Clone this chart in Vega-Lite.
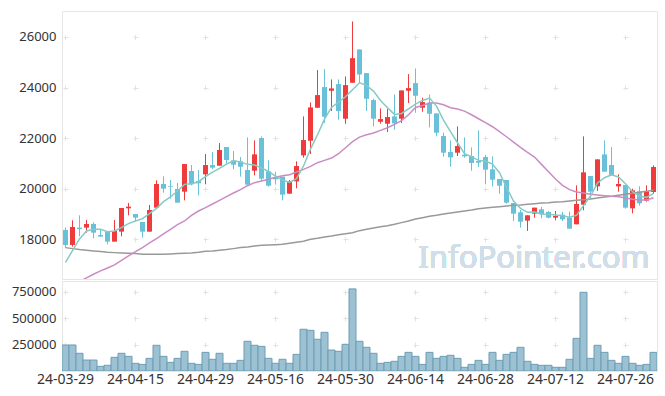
{
  "$schema": "https://vega.github.io/schema/vega-lite/v6.json",
  "padding": {"left": 5, "top": 10, "right": 9, "bottom": 0},
  "config": {
    "view": {"stroke": "#e6e6e6"},
    "axis": {"labelFont": "Noto Sans", "labelFontSize": 13, "labelColor": "#333333", "gridColor": "#e2e2e2", "gridWidth": 1, "domain": false, "ticks": false, "title": null}
  },
  "datasets": {
    "stock": [
      {"d":"24-03-29","o":18369,"h":18461,"l":17671,"c":17776,"v":247000,"m5":17091,"m20":null,"m60":17671},
      {"d":"24-04-01","o":17776,"h":18751,"l":17710,"c":18487,"v":247000,"m5":17552,"m20":null,"m60":17631},
      {"d":"24-04-02","o":18461,"h":18948,"l":18118,"c":18408,"v":168000,"m5":18013,"m20":16327,"m60":17592},
      {"d":"24-04-03","o":18461,"h":18764,"l":18263,"c":18606,"v":104000,"m5":18329,"m20":16472,"m60":17565},
      {"d":"24-04-04","o":18606,"h":18672,"l":18040,"c":18263,"v":104000,"m5":18395,"m20":16617,"m60":17539},
      {"d":"24-04-05","o":18171,"h":18382,"l":18105,"c":18105,"v":44000,"m5":18395,"m20":16749,"m60":17513},
      {"d":"24-04-08","o":18290,"h":18329,"l":17802,"c":17908,"v":54000,"m5":18303,"m20":16867,"m60":17486},
      {"d":"24-04-09","o":17908,"h":18764,"l":17908,"c":18329,"v":130000,"m5":18329,"m20":16986,"m60":17473},
      {"d":"24-04-11","o":18303,"h":19238,"l":18118,"c":19238,"v":168000,"m5":18461,"m20":17170,"m60":17460},
      {"d":"24-04-12","o":19225,"h":19436,"l":18948,"c":19291,"v":139000,"m5":18619,"m20":17342,"m60":17447},
      {"d":"24-04-15","o":19001,"h":19001,"l":18724,"c":18856,"v":73000,"m5":18724,"m20":17513,"m60":17434},
      {"d":"24-04-16","o":18685,"h":18685,"l":18066,"c":18303,"v":63000,"m5":18817,"m20":17671,"m60":17407},
      {"d":"24-04-17","o":18303,"h":19357,"l":18303,"c":19159,"v":120000,"m5":19014,"m20":17855,"m60":17407},
      {"d":"24-04-18","o":19251,"h":20331,"l":19251,"c":20186,"v":244000,"m5":19225,"m20":18026,"m60":17407},
      {"d":"24-04-19","o":20186,"h":20489,"l":19844,"c":20002,"v":139000,"m5":19488,"m20":18211,"m60":17407},
      {"d":"24-04-22","o":20107,"h":20344,"l":19607,"c":20081,"v":82000,"m5":19673,"m20":18395,"m60":17421},
      {"d":"24-04-23","o":19989,"h":20226,"l":19449,"c":19449,"v":120000,"m5":19910,"m20":18579,"m60":17434},
      {"d":"24-04-24","o":19883,"h":20976,"l":19541,"c":20976,"v":187000,"m5":20173,"m20":18724,"m60":17447},
      {"d":"24-04-25","o":20700,"h":20937,"l":20134,"c":20173,"v":73000,"m5":20199,"m20":18948,"m60":17460},
      {"d":"24-04-26","o":20305,"h":20739,"l":19738,"c":20213,"v":63000,"m5":20278,"m20":19119,"m60":17486},
      {"d":"24-04-29","o":20568,"h":21372,"l":20173,"c":20937,"v":177000,"m5":20476,"m20":19251,"m60":17526},
      {"d":"24-04-30","o":20937,"h":21451,"l":20766,"c":20832,"v":111000,"m5":20660,"m20":19396,"m60":17539},
      {"d":"24-05-02","o":20911,"h":21806,"l":20911,"c":21530,"v":168000,"m5":20805,"m20":19541,"m60":17565},
      {"d":"24-05-03","o":21648,"h":21648,"l":20963,"c":21134,"v":73000,"m5":20976,"m20":19686,"m60":17592},
      {"d":"24-05-07","o":21121,"h":21490,"l":20766,"c":20950,"v":73000,"m5":21108,"m20":19831,"m60":17631},
      {"d":"24-05-08","o":21082,"h":21253,"l":20476,"c":20871,"v":101000,"m5":21055,"m20":19962,"m60":17671},
      {"d":"24-05-09","o":20739,"h":22030,"l":20160,"c":20160,"v":282000,"m5":20963,"m20":20120,"m60":17697},
      {"d":"24-05-10","o":20713,"h":21911,"l":20529,"c":21358,"v":244000,"m5":20937,"m20":20239,"m60":17737},
      {"d":"24-05-13","o":22004,"h":22069,"l":20305,"c":20397,"v":234000,"m5":20818,"m20":20305,"m60":17763},
      {"d":"24-05-14","o":20687,"h":21121,"l":20081,"c":20120,"v":120000,"m5":20687,"m20":20371,"m60":17776},
      {"d":"24-05-16","o":20436,"h":20673,"l":20160,"c":20371,"v":73000,"m5":20502,"m20":20450,"m60":17789},
      {"d":"24-05-17","o":20476,"h":20476,"l":19541,"c":19765,"v":111000,"m5":20344,"m20":20515,"m60":17802},
      {"d":"24-05-20","o":19804,"h":20344,"l":19804,"c":20292,"v":73000,"m5":20252,"m20":20555,"m60":17842},
      {"d":"24-05-21","o":20292,"h":21082,"l":20015,"c":20897,"v":158000,"m5":20397,"m20":20660,"m60":17881},
      {"d":"24-05-22","o":21319,"h":22860,"l":21227,"c":21925,"v":396000,"m5":20897,"m20":20766,"m60":17921},
      {"d":"24-05-23","o":21898,"h":23413,"l":21372,"c":23215,"v":386000,"m5":21569,"m20":20884,"m60":18000},
      {"d":"24-05-24","o":23202,"h":24690,"l":23202,"c":23703,"v":301000,"m5":22135,"m20":21029,"m60":18040},
      {"d":"24-05-27","o":24019,"h":24730,"l":22596,"c":22847,"v":367000,"m5":22754,"m20":21121,"m60":18092},
      {"d":"24-05-28","o":23874,"h":24321,"l":23071,"c":23966,"v":199000,"m5":23215,"m20":21213,"m60":18132},
      {"d":"24-05-29","o":24137,"h":24321,"l":22728,"c":23071,"v":187000,"m5":23426,"m20":21385,"m60":18184},
      {"d":"24-05-30","o":22768,"h":24440,"l":22570,"c":24098,"v":253000,"m5":23637,"m20":21622,"m60":18224},
      {"d":"24-05-31","o":24190,"h":26613,"l":24190,"c":25164,"v":779000,"m5":23913,"m20":21859,"m60":18263},
      {"d":"24-06-03","o":25507,"h":25507,"l":24190,"c":24519,"v":282000,"m5":24190,"m20":22043,"m60":18342},
      {"d":"24-06-04","o":24572,"h":24572,"l":23071,"c":23558,"v":225000,"m5":24085,"m20":22135,"m60":18395},
      {"d":"24-06-05","o":23505,"h":23558,"l":22465,"c":22768,"v":168000,"m5":23860,"m20":22201,"m60":18448},
      {"d":"24-06-07","o":22649,"h":23176,"l":22570,"c":22754,"v":73000,"m5":23492,"m20":22307,"m60":18500},
      {"d":"24-06-10","o":22570,"h":23150,"l":22241,"c":22833,"v":82000,"m5":23202,"m20":22412,"m60":18540},
      {"d":"24-06-11","o":22860,"h":23729,"l":22333,"c":22583,"v":92000,"m5":22939,"m20":22544,"m60":18593},
      {"d":"24-06-12","o":22768,"h":23887,"l":22596,"c":23887,"v":139000,"m5":22978,"m20":22689,"m60":18659},
      {"d":"24-06-13","o":23874,"h":24532,"l":23386,"c":23979,"v":177000,"m5":23162,"m20":22926,"m60":18724},
      {"d":"24-06-14","o":24177,"h":24756,"l":23005,"c":23676,"v":139000,"m5":23347,"m20":23215,"m60":18803},
      {"d":"24-06-17","o":23202,"h":23597,"l":23044,"c":23426,"v":63000,"m5":23492,"m20":23294,"m60":18856},
      {"d":"24-06-18","o":23400,"h":23729,"l":22425,"c":22965,"v":177000,"m5":23584,"m20":23387,"m60":18909},
      {"d":"24-06-19","o":22978,"h":22978,"l":22070,"c":22214,"v":120000,"m5":23268,"m20":23387,"m60":18948},
      {"d":"24-06-20","o":22083,"h":22214,"l":21266,"c":21424,"v":139000,"m5":22715,"m20":23321,"m60":19001},
      {"d":"24-06-21","o":21451,"h":21911,"l":20871,"c":21240,"v":149000,"m5":22254,"m20":23202,"m60":19040},
      {"d":"24-06-24","o":21424,"h":22465,"l":21293,"c":21688,"v":120000,"m5":21819,"m20":23149,"m60":19080},
      {"d":"24-06-25","o":21345,"h":22030,"l":21227,"c":21279,"v":35000,"m5":21385,"m20":23070,"m60":19119},
      {"d":"24-06-26","o":21293,"h":21635,"l":20713,"c":21016,"v":63000,"m5":21266,"m20":22926,"m60":19159},
      {"d":"24-06-27","o":21095,"h":22307,"l":20858,"c":21029,"v":101000,"m5":21121,"m20":22768,"m60":19212},
      {"d":"24-06-28","o":21253,"h":21332,"l":20173,"c":20753,"v":63000,"m5":21095,"m20":22610,"m60":19238},
      {"d":"24-07-01","o":20766,"h":21279,"l":20094,"c":20357,"v":177000,"m5":20976,"m20":22451,"m60":19264},
      {"d":"24-07-02","o":20384,"h":20384,"l":19804,"c":20120,"v":101000,"m5":20634,"m20":22254,"m60":19291},
      {"d":"24-07-03","o":20344,"h":20344,"l":19409,"c":19449,"v":158000,"m5":20055,"m20":22056,"m60":19317},
      {"d":"24-07-04","o":19436,"h":19436,"l":18724,"c":19014,"v":177000,"m5":19515,"m20":21846,"m60":19343},
      {"d":"24-07-05","o":19067,"h":19159,"l":18461,"c":18698,"v":225000,"m5":19225,"m20":21635,"m60":19357},
      {"d":"24-07-08","o":18738,"h":18948,"l":18329,"c":18948,"v":92000,"m5":19067,"m20":21437,"m60":19383},
      {"d":"24-07-09","o":19014,"h":19251,"l":18856,"c":19251,"v":63000,"m5":19080,"m20":21253,"m60":19409},
      {"d":"24-07-10","o":19185,"h":19277,"l":18830,"c":18988,"v":54000,"m5":19001,"m20":20963,"m60":19436},
      {"d":"24-07-11","o":19080,"h":19120,"l":18830,"c":18856,"v":54000,"m5":18988,"m20":20674,"m60":19449},
      {"d":"24-07-12","o":18856,"h":19120,"l":18751,"c":18922,"v":35000,"m5":18961,"m20":20384,"m60":19475},
      {"d":"24-07-15","o":18975,"h":19080,"l":18724,"c":18790,"v":35000,"m5":18935,"m20":20134,"m60":19488},
      {"d":"24-07-16","o":18856,"h":19093,"l":18421,"c":18421,"v":111000,"m5":18869,"m20":19962,"m60":19515},
      {"d":"24-07-17","o":18593,"h":20133,"l":18593,"c":19396,"v":310000,"m5":18948,"m20":19870,"m60":19541},
      {"d":"24-07-18","o":19370,"h":22070,"l":19146,"c":20647,"v":747000,"m5":19330,"m20":19831,"m60":19567},
      {"d":"24-07-19","o":20502,"h":20502,"l":19620,"c":19883,"v":120000,"m5":19712,"m20":19778,"m60":19594},
      {"d":"24-07-22","o":20094,"h":21161,"l":19910,"c":21161,"v":244000,"m5":20226,"m20":19752,"m60":19633},
      {"d":"24-07-23","o":21358,"h":21911,"l":20674,"c":20674,"v":177000,"m5":20436,"m20":19725,"m60":19673},
      {"d":"24-07-24","o":20937,"h":21648,"l":20516,"c":20542,"v":101000,"m5":20555,"m20":19699,"m60":19699},
      {"d":"24-07-25","o":20094,"h":20568,"l":19883,"c":20186,"v":73000,"m5":20463,"m20":19686,"m60":19738},
      {"d":"24-07-26","o":20147,"h":20147,"l":19212,"c":19251,"v":139000,"m5":20199,"m20":19633,"m60":19778},
      {"d":"24-07-29","o":19225,"h":20002,"l":19027,"c":19936,"v":73000,"m5":19883,"m20":19580,"m60":19817},
      {"d":"24-07-30","o":19896,"h":20094,"l":19330,"c":19423,"v":54000,"m5":19699,"m20":19554,"m60":19857},
      {"d":"24-07-31","o":19528,"h":20133,"l":19488,"c":19896,"v":63000,"m5":19659,"m20":19554,"m60":19896},
      {"d":"24-08-01","o":19870,"h":20924,"l":19804,"c":20858,"v":177000,"m5":19817,"m20":19646,"m60":19936}
    ]
  },
  "vconcat": [
    {
      "width": 595,
      "height": 268,
      "data": {"name": "stock"},
      "encoding": {
        "x": {
          "field": "d", "type": "ordinal",
          "scale": {"type": "band", "paddingInner": 0, "paddingOuter": 0},
          "axis": {"values": ["24-03-29","24-04-15","24-04-29","24-05-16","24-05-30","24-06-14","24-06-28","24-07-12","24-07-26"], "labels": false, "grid": true, "gridDash": [5, 45.57], "gridDashOffset": 27.07, "minExtent": 0, "maxExtent": 0}
        }
      },
      "layer": [
        {
          "mark": {"type": "text", "text": "InfoPointer.com", "font": "Noto Sans", "fontSize": 31, "align": "right", "baseline": "alphabetic", "color": "#cfdee8", "dx": -4},
          "encoding": {
            "x": {"datum": "24-08-01", "type": "ordinal"},
            "y": {"datum": 16860, "type": "quantitative"}
          }
        },
        {
          "mark": {"type": "rule", "strokeWidth": 1},
          "encoding": {
            "y": {"field": "l", "type": "quantitative", "scale": {"domain": [16430, 27028], "nice": false, "zero": false},
                  "axis": {"values": [18000, 20000, 22000, 24000, 26000], "format": "d", "labelPadding": 6, "minExtent": 56, "maxExtent": 56, "grid": true, "gridDash": [5, 65], "gridDashOffset": 69}},
            "y2": {"field": "h"},
            "color": {"condition": {"test": "datum.c >= datum.o", "value": "#ef3b3b"}, "value": "#68c1d9"}
          }
        },
        {
          "mark": {"type": "bar", "size": 5},
          "encoding": {
            "y": {"field": "o", "type": "quantitative"},
            "y2": {"field": "c"},
            "color": {"condition": {"test": "datum.c >= datum.o", "value": "#ef3b3b"}, "value": "#68c1d9"}
          }
        },
        {
          "mark": {"type": "line", "color": "#999999", "strokeWidth": 1.5, "clip": true},
          "encoding": {"y": {"field": "m60", "type": "quantitative"}}
        },
        {
          "mark": {"type": "line", "color": "#c98cc4", "strokeWidth": 1.5, "clip": true},
          "encoding": {"y": {"field": "m20", "type": "quantitative"}}
        },
        {
          "mark": {"type": "line", "color": "#86cac3", "strokeWidth": 1.5, "clip": true},
          "encoding": {"y": {"field": "m5", "type": "quantitative"}}
        }
      ]
    },
    {
      "width": 595,
      "height": 90,
      "data": {"name": "stock"},
      "mark": {"type": "bar", "fill": "#9bc1d2", "stroke": "#6e9db4", "strokeWidth": 1, "clip": true},
      "encoding": {
        "x": {
          "field": "d", "type": "ordinal",
          "scale": {"type": "band", "paddingInner": 0, "paddingOuter": 0},
          "axis": {"values": ["24-03-29","24-04-15","24-04-29","24-05-16","24-05-30","24-06-14","24-06-28","24-07-12","24-07-26"], "labelAngle": 0, "labelPadding": 1, "labelFontSize": 14, "grid": true, "gridDash": [5, 21.35], "gridDashOffset": 17.9}
        },
        "y": {
          "field": "v", "type": "quantitative",
          "scale": {"domain": [0, 854000], "nice": false},
          "axis": {"values": [250000, 500000, 750000], "format": "d", "labelPadding": 6, "minExtent": 56, "maxExtent": 56, "grid": true, "gridDash": [5, 65], "gridDashOffset": 69}
        }
      }
    }
  ],
  "spacing": 0
}
